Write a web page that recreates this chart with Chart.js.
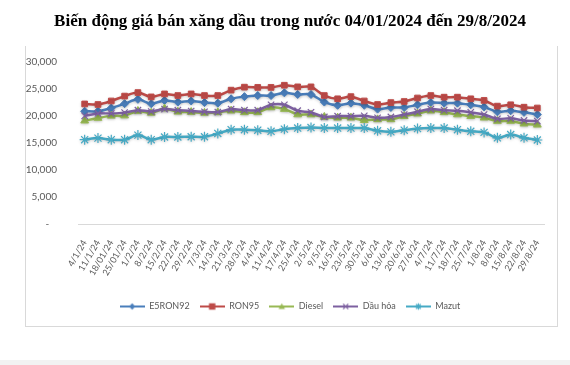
<!DOCTYPE html>
<html>
<head>
<meta charset="utf-8">
<script src="https://cdn.jsdelivr.net/npm/chart.js@4.4.1/dist/chart.umd.min.js"></script>
<style>
  html, body { margin: 0; padding: 0; background: #ffffff; }
  #wrap { position: relative; width: 570px; height: 365px; overflow: hidden; }
  #frame { position: absolute; left: 25px; top: 46px; width: 531px; height: 280px;
           border-left: 1px solid #d9d9d9; border-right: 1px solid #d9d9d9; border-bottom: 1px solid #d9d9d9; }
  #strip { position: absolute; left: 0; top: 360px; width: 570px; height: 5px; background: #f2f2f2; }
  canvas { position: absolute; left: 0; top: 0; }
</style>
</head>
<body>
<div id="wrap">
  <div id="frame"></div>
  <div id="strip"></div>
  <canvas id="c" width="570" height="365"></canvas>
</div>
<script>
const chartTitle = 'Biến động giá bán xăng dầu trong nước 04/01/2024 đến 29/8/2024';
const categories = ['4/1/24','11/1/24','18/01/24','25/01/24','1/2/24','8/2/24','15/2/24','22/2/24','29/2/24','7/3/24','14/3/24','21/3/24','28/3/24','4/4/24','11/4/24','17/4/24','25/4/24','2/5/24','9/5/24','16/5/24','23/5/24','30/5/24','6/6/24','13/6/24','20/6/24','27/6/24','4/7/24','11/7/24','18/7/24','25/7/24','1/8/24','8/8/24','15/8/24','22/8/24','29/8/24'];
const seriesNames = ['E5RON92', 'RON95', 'Diesel', 'Dầu hỏa', 'Mazut'];
const e5ron92 = [20800, 20800, 21400, 22200, 23000, 22200, 22800, 22500, 22700, 22400, 22300, 23100, 23500, 23700, 23700, 24200, 23900, 23900, 22500, 21900, 22300, 21900, 21200, 21500, 21500, 22000, 22400, 22300, 22300, 22000, 21600, 20700, 20900, 20600, 20200];
const ron95 = [22150, 22050, 22700, 23600, 24250, 23450, 24000, 23700, 24000, 23700, 23700, 24700, 25250, 25200, 25200, 25600, 25300, 25300, 23700, 23100, 23500, 22700, 22050, 22400, 22600, 23250, 23700, 23400, 23400, 23100, 22800, 21750, 22000, 21550, 21400];
const diesel = [19050, 19550, 19950, 20000, 20850, 20500, 21300, 20700, 20650, 20500, 20600, 20900, 20600, 20600, 21500, 21200, 20200, 20200, 19750, 19600, 19600, 19150, 19300, 19300, 19900, 20350, 20900, 20600, 20200, 19900, 19600, 19000, 19000, 18500, 18300];
const dauHoa = [19950, 20400, 20400, 20550, 21000, 20750, 21200, 21000, 20850, 20700, 20650, 21200, 21000, 21000, 22000, 22000, 20900, 20600, 19750, 19900, 19900, 19950, 19600, 19750, 20200, 20700, 21200, 21000, 20900, 20600, 20200, 19400, 19500, 19100, 19000];
const mazut = [15550, 15850, 15550, 15550, 16400, 15550, 16050, 16050, 16100, 16100, 16700, 17400, 17400, 17300, 17100, 17500, 17700, 17800, 17700, 17700, 17700, 17700, 17200, 17000, 17300, 17600, 17700, 17700, 17400, 17100, 16900, 15900, 16500, 15900, 15500];
const yTicks = [0, 5000, 10000, 15000, 20000, 25000, 30000];

const colors = ['#4A7EBB', '#BE4B48', '#98B954', '#7D60A0', '#46AAC5'];
const styles = ['rectRot', 'rect', 'triangle', 'crossRot', 'star'];
const radii = [4, 4, 4.5, 4.5, 5];

function drawMarker(ctx, style, x, y, r, color) {
  ctx.save();
  ctx.fillStyle = color; ctx.strokeStyle = color; ctx.lineWidth = 1.2;
  ctx.beginPath();
  if (style === 'rect') {
    ctx.rect(x - r, y - r, 2 * r, 2 * r); ctx.fill();
  } else if (style === 'rectRot') {
    ctx.moveTo(x, y - r); ctx.lineTo(x + r, y); ctx.lineTo(x, y + r); ctx.lineTo(x - r, y); ctx.closePath(); ctx.fill();
  } else if (style === 'triangle') {
    ctx.moveTo(x, y - r); ctx.lineTo(x + r, y + r * 0.8); ctx.lineTo(x - r, y + r * 0.8); ctx.closePath(); ctx.fill();
  } else if (style === 'crossRot') {
    const d = r * 0.8;
    ctx.moveTo(x - d, y - d); ctx.lineTo(x + d, y + d); ctx.moveTo(x + d, y - d); ctx.lineTo(x - d, y + d); ctx.stroke();
  } else if (style === 'star') {
    const d = r * 0.75;
    ctx.moveTo(x - d, y - d); ctx.lineTo(x + d, y + d); ctx.moveTo(x + d, y - d); ctx.lineTo(x - d, y + d);
    ctx.moveTo(x, y - r); ctx.lineTo(x, y + r); ctx.stroke();
  }
  ctx.restore();
}

function legendIcon(i) {
  const cv = document.createElement('canvas');
  cv.width = 25; cv.height = 10;
  const ctx = cv.getContext('2d');
  ctx.strokeStyle = colors[i]; ctx.lineWidth = 2;
  ctx.beginPath(); ctx.moveTo(0, 5); ctx.lineTo(25, 5); ctx.stroke();
  drawMarker(ctx, styles[i], 12.5, 5, 3.2, colors[i]);
  return cv;
}

const seriesData = [e5ron92, ron95, diesel, dauHoa, mazut];
const datasets = seriesNames.map((name, i) => ({
  label: name,
  data: seriesData[i],
  borderColor: colors[i],
  backgroundColor: colors[i],
  borderWidth: 2.5,
  pointStyle: styles[i],
  pointRadius: radii[i],
  pointBorderWidth: (styles[i] === 'crossRot' || styles[i] === 'star') ? 1.2 : 1,
  pointBorderColor: colors[i],
  pointBackgroundColor: colors[i],
  tension: 0.3,
  yAxisID: 'y',
  order: 5 - i
}));

const glow = {
  id: 'glow',
  beforeDatasetDraw(chart, args) {
    const ctx = chart.ctx;
    ctx.save();
    ctx.shadowColor = 'rgba(0,0,0,0.18)';
    ctx.shadowBlur = 3;
    ctx.shadowOffsetY = 1;
  },
  afterDatasetDraw(chart) { chart.ctx.restore(); }
};

new Chart(document.getElementById('c'), {
  type: 'line',
  data: { labels: categories, datasets },
  options: {
    responsive: false,
    animation: false,
    layout: { padding: { left: 25, right: 15, top: 0, bottom: 44 } },
    plugins: {
      title: {
        display: true,
        text: chartTitle,
        color: '#000000',
        font: { family: 'Liberation Serif', size: 17, weight: 'bold' },
        padding: { top: 11, bottom: 30 }
      },
      legend: {
        position: 'bottom',
        labels: {
          color: '#595959',
          font: { family: 'Lato', size: 9 },
          usePointStyle: true,
          pointStyleWidth: 25,
          boxHeight: 9,
          padding: 10,
          sort: (a, b) => a.datasetIndex - b.datasetIndex,
          generateLabels(chart) {
            const items = Chart.defaults.plugins.legend.labels.generateLabels(chart);
            items.forEach((it) => { it.pointStyle = legendIcon(it.datasetIndex); });
            return items;
          }
        }
      },
      tooltip: { enabled: false }
    },
    scales: {
      x: {
        offset: true,
        grid: { display: false },
        border: { display: true, color: '#d9d9d9', width: 1 },
        ticks: {
          autoSkip: false, minRotation: 60, maxRotation: 60,
          color: '#595959', font: { family: 'Lato', size: 9 }, padding: 6
        },
        afterFit(scale) { scale.height = 68; }
      },
      y: {
        position: 'left',
        min: 0, max: 30000,
        grid: { display: false },
        border: { display: false },
        afterBuildTicks(scale) { scale.ticks = yTicks.map(v => ({ value: v })); },
        ticks: {
          color: '#595959', font: { family: 'Lato', size: 10 }, padding: 13,
          callback: (v) => v === 0 ? '-   ' : Number(v).toLocaleString('en-US')
        },
        afterFit(scale) { scale.width = 53; }
      },
      yRight: {
        position: 'right',
        display: true,
        grid: { display: false },
        border: { display: false },
        ticks: { display: false },
        afterFit(scale) { scale.width = 11; }
      }
    }
  },
  plugins: [glow]
});
</script>
</body>
</html>
